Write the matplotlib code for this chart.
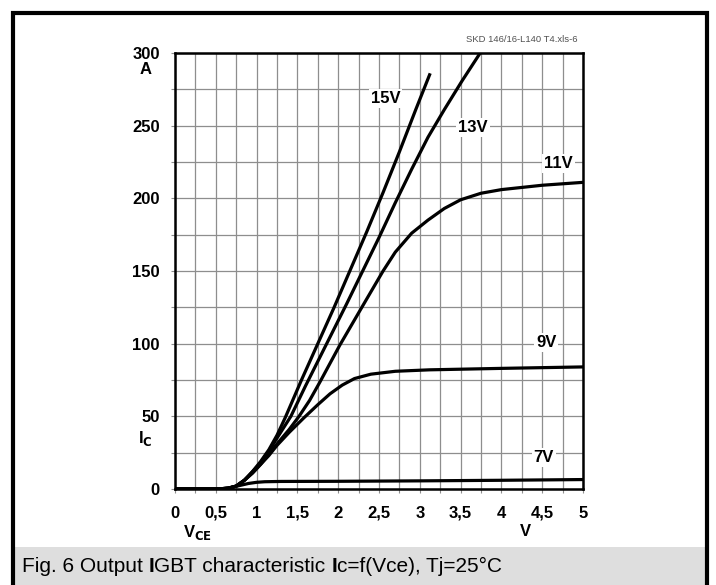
import matplotlib
matplotlib.use('Agg')
import matplotlib.pyplot as plt
from matplotlib.patches import Rectangle

plt.rcParams['font.family'] = ['Liberation Sans', 'DejaVu Sans']

# curves: Vce in V, Ic in A
vce_15 = [0, 0.5, 0.65, 0.75, 0.85, 0.95, 1.05, 1.15, 1.25, 1.35, 1.55, 1.75, 1.95, 2.15, 2.35, 2.55, 2.75, 2.95, 3.12]
ic_15 = [0, 0, 0.5, 2, 6, 12, 19, 27, 37, 49, 75, 100, 125, 151, 177, 204, 232, 261, 285]

vce_13 = [0, 0.5, 0.65, 0.75, 0.85, 0.95, 1.05, 1.15, 1.25, 1.42, 1.6, 1.85, 2.1, 2.3, 2.5, 2.7, 2.9, 3.1, 3.3, 3.52, 3.74]
ic_13 = [0, 0, 0.5, 2, 6, 12, 18, 26, 35, 50, 71, 99, 127, 150, 173, 197, 220, 242, 261, 281, 300]

vce_11 = [0, 0.5, 0.65, 0.75, 0.85, 0.95, 1.05, 1.15, 1.25, 1.4, 1.52, 1.65, 1.78, 2.02, 2.3, 2.55, 2.7, 2.9, 3.1, 3.3, 3.5, 3.75, 4.0, 4.5, 5.0]
ic_11 = [0, 0, 0.5, 2, 6, 11, 17, 24, 31, 41, 50, 61, 74, 99, 126, 150, 163, 176, 185, 193, 199, 203.5, 206, 209, 211]

vce_9 = [0, 0.5, 0.65, 0.75, 0.85, 0.95, 1.05, 1.15, 1.25, 1.4, 1.58, 1.75, 1.9, 2.05, 2.2, 2.4, 2.7, 3.12, 4.0, 5.0]
ic_9 = [0, 0, 0.5, 2, 6, 11, 17, 23, 30, 39, 49, 58, 65.5, 71.5, 76, 79, 81, 82, 83, 84]

vce_7 = [0, 0.5, 0.6, 0.7, 0.8, 0.9, 1.0, 1.1, 1.3, 2.0, 3.0, 4.0, 5.0]
ic_7 = [0, 0, 0.3, 1.2, 2.5, 3.8, 4.6, 5.0, 5.2, 5.3, 5.6, 6.0, 6.5]

curves = [(vce_15, ic_15), (vce_13, ic_13), (vce_11, ic_11), (vce_9, ic_9), (vce_7, ic_7)]
curve_labels = ['15V', '13V', '11V', '9V', '7V']
label_pos = [(2.58, 269), (3.65, 249), (4.70, 224), (4.55, 101), (4.52, 22)]

x_ticks = [0, 0.5, 1, 1.5, 2, 2.5, 3, 3.5, 4, 4.5, 5]
x_ticklabels = ['0', '0,5', '1', '1,5', '2', '2,5', '3', '3,5', '4', '4,5', '5']
y_ticks = [0, 50, 100, 150, 200, 250, 300]

fig = plt.figure(figsize=(7.16, 5.85), dpi=100)

# outer frame and grey caption bar
fig.patches.append(Rectangle((14 / 716, 0), 692 / 716, 38 / 585, transform=fig.transFigure,
                             facecolor='#dedede', edgecolor='none', zorder=0))
fig.patches.append(Rectangle((13 / 716, -0.02), 694 / 716, 1 - 13 / 585 + 0.02, transform=fig.transFigure,
                             facecolor='none', edgecolor='black', linewidth=3, zorder=1))

ax = fig.add_axes([175 / 716, 96 / 585, 408 / 716, 436 / 585])
for vce, ic in curves:
    ax.plot(vce, ic, color='black', linewidth=2.3, solid_joinstyle='round', zorder=3)

for text, (x, y) in zip(curve_labels, label_pos):
    ax.text(x, y, text, fontsize=12, fontweight='bold', ha='center', va='center', zorder=4,
            bbox=dict(facecolor='white', edgecolor='none', pad=1.5))

ax.set_xlim(0, 5)
ax.set_ylim(0, 300)
ax.set_xticks([i * 0.25 for i in range(21)], minor=True)
ax.set_yticks([i * 25 for i in range(13)], minor=True)
ax.set_xticks(x_ticks)
ax.set_xticklabels(x_ticklabels)
ax.set_yticks(y_ticks)
ax.grid(True, which='both', color='#8e8e8e', linewidth=0.9, zorder=1)
ax.set_axisbelow(True)
ax.tick_params(which='both', length=3, width=0.8, color='#8e8e8e', direction='out')
ax.tick_params(axis='x', pad=9)
ax.tick_params(axis='y', pad=8)
for lab in ax.get_xticklabels() + ax.get_yticklabels():
    lab.set_fontsize(12)
    lab.set_fontweight('bold')
for side in ['left', 'right', 'top', 'bottom']:
    ax.spines[side].set_linewidth(1.8)
    ax.spines[side].set_zorder(5)

# axis units and names
fig.text(146 / 716, 1 - 69 / 585, 'A', fontsize=12, fontweight='bold', ha='center', va='center')
fig.text(145 / 716, 1 - 438 / 585, r'I$_{\mathbf{C}}$', fontsize=12, fontweight='bold', ha='center', va='center')
fig.text(197 / 716, 1 - 533 / 585, r'V$_{\mathbf{CE}}$', fontsize=12, fontweight='bold', ha='center', va='center')
fig.text(525 / 716, 1 - 531 / 585, 'V', fontsize=12, fontweight='bold', ha='center', va='center')

fig.text(578 / 716, 1 - 40 / 585, 'SKD 146/16-L140 T4.xls-6', fontsize=6.8, color='#505050',
         ha='right', va='center')

# caption with bold I's
pieces = [('Fig. 6 Output ', 'normal'), ('I', 'bold'), ('GBT characteristic ', 'normal'),
          ('I', 'bold'), ('c=f(Vce), Tj=25°C', 'normal')]
renderer = fig.canvas.get_renderer()
x = 22 / 716
for txt, weight in pieces:
    t = fig.text(x, 1 - 566 / 585, txt, fontsize=15, fontweight=weight, ha='left', va='center')
    bb = t.get_window_extent(renderer=renderer)
    x += bb.width / fig.bbox.width

fig.savefig('out.png', dpi=100)
